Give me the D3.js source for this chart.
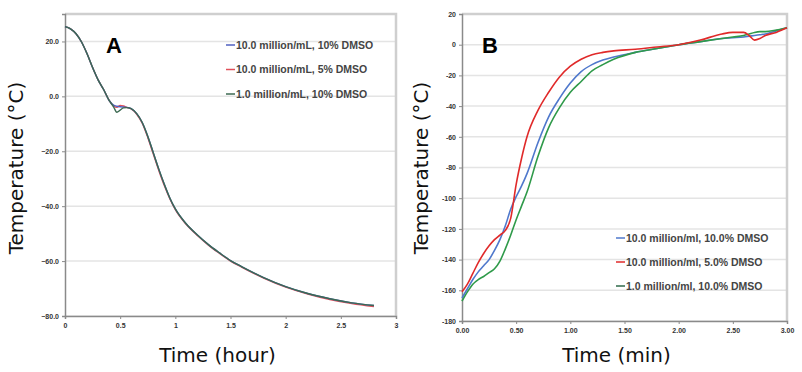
<!DOCTYPE html>
<html><head><meta charset="utf-8">
<script src="https://cdn.jsdelivr.net/npm/d3@7"></script>
<style>body{margin:0;background:#fff}svg{display:block}</style>
</head><body>
<svg id="c" width="802" height="372"></svg>
<script>
// ---------- Panel A data (time in hours) ----------
const tA = [0,0.05,0.1,0.15,0.2,0.25,0.3,0.35,0.4,0.44,0.47,0.5,0.53,0.56,0.6,0.65,0.7,0.75,0.8,0.85,0.9,0.95,1.0,1.1,1.2,1.3,1.4,1.5,1.6,1.8,2.0,2.2,2.4,2.6,2.8];
const aBlue  = [25.4,24.6,22.8,19.8,15.5,10.5,6,2.5,-1.5,-3.2,-3.6,-3.8,-3.9,-4.0,-4.5,-6.3,-9.5,-14.5,-20.5,-26.5,-32,-37,-41,-46.5,-50.5,-54,-57,-59.8,-62,-66,-69.3,-71.8,-73.7,-75.2,-76.2];
const aRed   = [25.4,24.6,22.8,19.8,15.5,10.5,6,2.5,-1.5,-3.5,-4.0,-3.3,-3.5,-4.0,-4.6,-6.5,-9.8,-15,-21,-27,-32.5,-37.3,-41.3,-46.7,-50.7,-54.2,-57.2,-60,-62.2,-66.2,-69.5,-72,-74,-75.5,-76.6];
const aGreen = [25.4,24.6,22.8,19.8,15.5,10.5,6,2.5,-1.5,-3.8,-5.8,-5.0,-4.2,-4.1,-4.5,-6.3,-9.5,-14.5,-20.5,-26.5,-32,-37,-41,-46.5,-50.5,-54,-57,-59.8,-62,-66,-69.3,-71.8,-73.7,-75.2,-76.2];
const aLegend = ["10.0 million/mL, 10% DMSO","10.0 million/mL, 5% DMSO","1.0 million/mL, 10% DMSO"];
const aYTicks = [-80,-60,-40,-20,0,20];
const aXTicks = [0,0.5,1,1.5,2,2.5,3];

// ---------- Panel B data (time in min) ----------
const tB = [0,0.05,0.1,0.15,0.2,0.25,0.3,0.35,0.4,0.45,0.5,0.55,0.6,0.7,0.8,0.9,1.0,1.1,1.2,1.3,1.4,1.6,1.8,2.0,2.2,2.4,2.5,2.6,2.65,2.7,2.75,2.8,2.9,3.0];
const bBlue  = [-165,-159,-153,-148,-144,-140,-134,-127,-118,-107,-99,-92,-84,-64,-47,-35,-25,-17.5,-13,-10,-8,-5,-2.5,0,2,4,4.5,5,5.5,6,6.5,7,9,11];
const bRed   = [-161,-156,-149,-142,-136,-131,-127,-124,-121,-113,-91,-74,-60,-43,-31,-21,-14,-9.5,-6.5,-5,-4,-3,-1.5,0,3,7,8,8,6,3,4,6,8,11];
const bGreen = [-167,-161,-156,-153,-151,-148.5,-146,-141,-133,-124,-114,-105,-96,-73,-54,-41,-31,-24,-17,-13,-9.5,-5,-2.5,0,2,4,5,6,7,8,8.5,8.5,9.5,11];
const bLegend = ["10.0 million/ml, 10.0% DMSO","10.0 million/ml, 5.0% DMSO","1.0 million/ml, 10.0% DMSO"];
const bYTicks = [-180,-160,-140,-120,-100,-80,-60,-40,-20,0,20];
const bXTicks = [0,0.5,1,1.5,2,2.5,3];

const svg = d3.select("#c");

function panel(o){
  const g = svg.append("g");
  const x = d3.scaleLinear().domain(o.xd).range([o.l, o.r]);
  const y = d3.scaleLinear().domain(o.yd).range([o.b, o.t]);
  g.append("g").selectAll("line").data(o.yt).join("line")
    .attr("x1", o.l).attr("x2", o.r).attr("y1", d=>y(d)).attr("y2", d=>y(d))
    .attr("stroke", "#e4e4e4").attr("stroke-width", 1.5);
  g.append("path").attr("d", `M${o.l},${o.t}H${o.r}V${o.b}`)
    .attr("fill","none").attr("stroke","#cfcfcf").attr("stroke-width",2.5);
  const ya = d3.axisLeft(y).tickValues(o.yt).tickFormat(o.yf).tickSize(3).tickPadding(3);
  const xa = d3.axisBottom(x).tickValues(o.xt).tickFormat(o.xf).tickSize(3).tickPadding(4);
  const gy = g.append("g").attr("transform",`translate(${o.l},0)`).call(ya);
  const gx = g.append("g").attr("transform",`translate(0,${o.b})`).call(xa);
  [gy,gx].forEach(a=>{
    a.select(".domain").attr("stroke","#8a8a8a").attr("stroke-width",1.5);
    a.selectAll(".tick line").attr("stroke","#8a8a8a");
    a.selectAll("text").attr("font-family","Liberation Sans, Arial, sans-serif")
      .attr("font-size",7).attr("font-weight","bold").attr("fill","#333");
  });
  const line = d3.line().x((d,i)=>x(o.ts[i])).y(d=>y(d)).curve(d3.curveMonotoneX);
  o.series.forEach(s=>{
    g.append("path").attr("d", line(s.v)).attr("fill","none")
      .attr("stroke", s.c).attr("stroke-width", o.sw);
  });
  o.legend.forEach((t,i)=>{
    const yy = o.ly + i*o.lgap;
    g.append("line").attr("x1",o.lx).attr("x2",o.lx+9).attr("y1",yy).attr("y2",yy)
      .attr("stroke", o.lc[i]).attr("stroke-width",1.5);
    g.append("text").attr("x",o.lx+10).attr("y",yy).attr("dy","0.35em")
      .attr("font-family","Liberation Sans, Arial, sans-serif").attr("font-size",o.lfs)
      .attr("font-weight","bold").attr("fill","#444").text(t);
  });
  g.append("text").attr("x",o.px).attr("y",o.py).attr("font-family","Liberation Sans, Arial, sans-serif")
    .attr("font-size",22).attr("font-weight","bold").attr("fill","#000").text(o.letter);
  g.append("text").attr("x",(o.l+o.r)/2+o.xtOff).attr("y",362).attr("text-anchor","middle")
    .attr("font-family","DejaVu Sans, sans-serif").attr("font-size",20).attr("fill","#111").text(o.xtitle);
  g.append("text").attr("transform",`translate(${o.ytx},168) rotate(-90)`).attr("text-anchor","middle")
    .attr("font-family","DejaVu Sans, sans-serif").attr("font-size",20).attr("fill","#111").text("Temperature (°C)");
}

panel({
  l:65, r:396, t:14, b:316, xd:[0,3], yd:[-80,30], yt:aYTicks, xt:aXTicks,
  yf:d3.format(".1f"), xf:d=>String(d), ts:tA, sw:1.4,
  series:[{v:aRed,c:"#e0505a"},{v:aBlue,c:"#5060c0"},{v:aGreen,c:"#3c6a52"}],
  legend:aLegend, lc:["#5060c0","#e0505a","#3c6a52"], lx:226, ly:45, lgap:24.5, lfs:10.5,
  letter:"A", px:106, py:53, xtitle:"Time (hour)", xtOff:-13, ytx:23
});
panel({
  l:462, r:787, t:14, b:321, xd:[0,3], yd:[-180,20], yt:bYTicks, xt:bXTicks,
  yf:d=>String(d), xf:d3.format(".2f"), ts:tB, sw:1.6,
  series:[{v:bBlue,c:"#4f78cc"},{v:bGreen,c:"#2f9a4a"},{v:bRed,c:"#e02a2a"}],
  legend:bLegend, lc:["#4f78cc","#e02a2a","#2f6a4a"], lx:616, ly:238, lgap:24, lfs:10.5,
  letter:"B", px:482, py:53, xtitle:"Time (min)", xtOff:-8, ytx:428
});
</script>
</body></html>
